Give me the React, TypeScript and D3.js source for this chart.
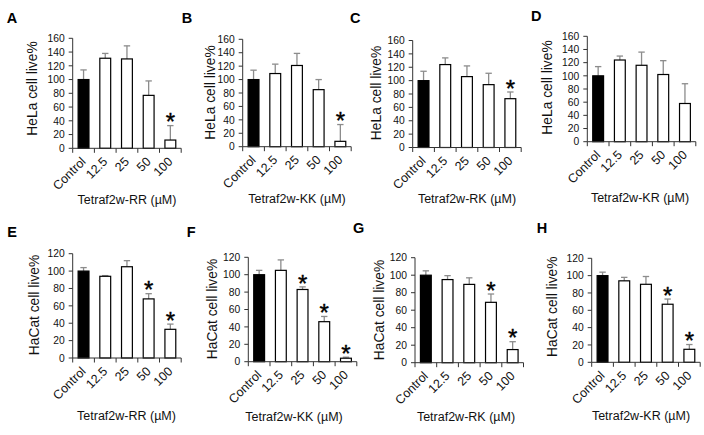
import React from "react";
import * as d3 from "d3";

// ---------- data ----------
const categories = ["Control", "12.5", "25", "50", "100"];

const helaRR = [100, 131, 130, 77, 12];
const helaRRErr = [14, 7, 19, 21, 21];
const helaRRSig = [false, false, false, false, true];

const helaKK = [100, 109, 121, 85, 8];
const helaKKErr = [14, 14, 18, 15, 25];
const helaKKSig = [false, false, false, false, true];

const helaRK = [100, 124, 106, 94, 73];
const helaRKErr = [14, 10, 16, 17, 10];
const helaRKSig = [false, false, false, false, true];

const helaKR = [100, 124, 116, 102, 58];
const helaKRErr = [14, 6, 20, 21, 30];
const helaKRSig = [false, false, false, false, false];

const hacatRR = [100, 94, 105, 68, 33];
const hacatRRErr = [4, 0.8, 7, 6, 6];
const hacatRRSig = [false, false, false, true, true];

const hacatKK = [100, 105, 83, 46, 4];
const hacatKKErr = [5, 12, 3, 6, 1.2];
const hacatKKSig = [false, false, true, true, true];

const hacatRK = [100, 95, 89.5, 69, 15];
const hacatRKErr = [5, 4.5, 7.5, 9.5, 9];
const hacatRKSig = [false, false, false, true, true];

const hacatKR = [100, 94, 90, 67, 15];
const hacatKRErr = [4, 4, 9, 6, 5.5];
const hacatKRSig = [false, false, false, true, true];

const helaTicks = [0, 20, 40, 60, 80, 100, 120, 140, 160];
const hacatTicks = [0, 20, 40, 60, 80, 100, 120];

const helaLabel = "HeLa cell live%";
const hacatLabel = "HaCat cell live%";
const titles = [
  "Tetraf2w-RR (µM)",
  "Tetraf2w-KK (µM)",
  "Tetraf2w-RK (µM)",
  "Tetraf2w-KR (µM)",
];

// ---------- layout (positions only) ----------
type Layout = {
  letter: string;
  lx: number; ly: number;
  ax: number; y0: number; y1: number;
  ylx: number; yly: number;
  tx: number; ty: number;
};

const layouts: Layout[] = [
  { letter: "A", lx: 6.7, ly: 23.3, ax: 72.7, y0: 148.3, y1: 38.3, ylx: 31.7, yly: 88.5, tx: 127, ty: 204 },
  { letter: "B", lx: 181.7, ly: 23.3, ax: 242.7, y0: 146.7, y1: 39.3, ylx: 210, yly: 92.5, tx: 297, ty: 203 },
  { letter: "C", lx: 350, ly: 22.7, ax: 412.7, y0: 147.5, y1: 40.5, ylx: 375.5, yly: 93, tx: 467, ty: 203 },
  { letter: "D", lx: 531, ly: 20.7, ax: 587.3, y0: 141.7, y1: 36.3, ylx: 547.3, yly: 87.5, tx: 640, ty: 202 },
  { letter: "E", lx: 7.3, ly: 236.7, ax: 72.7, y0: 358, y1: 253.7, ylx: 34, yly: 305, tx: 126.5, ty: 420 },
  { letter: "F", lx: 186.7, ly: 236.7, ax: 248.3, y0: 361.7, y1: 257.3, ylx: 212.3, yly: 309, tx: 294, ty: 421 },
  { letter: "G", lx: 353, ly: 233.3, ax: 415, y0: 362.7, y1: 257.7, ylx: 379, yly: 310, tx: 466, ty: 420.5 },
  { letter: "H", lx: 536.7, ly: 233.3, ax: 591.7, y0: 362.3, y1: 258.3, ylx: 552.3, yly: 306.7, tx: 641, ty: 420 },
];

const panelData = [
  { v: helaRR, e: helaRRErr, s: helaRRSig, ticks: helaTicks, yl: helaLabel, t: titles[0] },
  { v: helaKK, e: helaKKErr, s: helaKKSig, ticks: helaTicks, yl: helaLabel, t: titles[1] },
  { v: helaRK, e: helaRKErr, s: helaRKSig, ticks: helaTicks, yl: helaLabel, t: titles[2] },
  { v: helaKR, e: helaKRErr, s: helaKRSig, ticks: helaTicks, yl: helaLabel, t: titles[3] },
  { v: hacatRR, e: hacatRRErr, s: hacatRRSig, ticks: hacatTicks, yl: hacatLabel, t: titles[0] },
  { v: hacatKK, e: hacatKKErr, s: hacatKKSig, ticks: hacatTicks, yl: hacatLabel, t: titles[1] },
  { v: hacatRK, e: hacatRKErr, s: hacatRKSig, ticks: hacatTicks, yl: hacatLabel, t: titles[2] },
  { v: hacatKR, e: hacatKRErr, s: hacatKRSig, ticks: hacatTicks, yl: hacatLabel, t: titles[3] },
];

const FONT = "'Liberation Sans', Arial, Helvetica, sans-serif";
const AXIS_W = 108.5;
const AXIS_COLOR = "#333";
const ERR_COLOR = "#8c8c8c";
const STAR_SIZE = 24;

function Panel({ L, D }: { L: Layout; D: typeof panelData[number] }) {
  const yMax = D.ticks[D.ticks.length - 1];
  const x = d3
    .scaleBand<string>()
    .domain(categories)
    .range([L.ax, L.ax + AXIS_W])
    .paddingInner(0.5)
    .paddingOuter(0.25);
  const y = d3.scaleLinear().domain([0, yMax]).range([L.y0, L.y1]);
  const step = x.step();
  const bw = x.bandwidth();
  const boundaries = d3.range(categories.length + 1).map((i) => L.ax + i * step);

  return (
    <g fontFamily={FONT}>
      <text x={L.lx} y={L.ly} fontSize={14.5} fontWeight="bold" fill="#000">
        {L.letter}
      </text>
      {/* y axis */}
      <line x1={L.ax} x2={L.ax} y1={y(0)} y2={y(yMax)} stroke={AXIS_COLOR} strokeWidth={1} />
      {D.ticks.map((t) => (
        <g key={t}>
          <line x1={L.ax - 4} x2={L.ax} y1={y(t)} y2={y(t)} stroke={AXIS_COLOR} strokeWidth={1} />
          <text x={L.ax - 8} y={y(t)} dy="0.36em" textAnchor="end" fontSize={10.3} fill="#111">
            {t}
          </text>
        </g>
      ))}
      {/* bars */}
      {categories.map((c, i) => {
        const v = D.v[i];
        const top = y(v + D.e[i]);
        const cx = (x(c) as number) + bw / 2;
        return (
          <g key={c}>
            <line x1={cx} x2={cx} y1={y(v)} y2={top} stroke={ERR_COLOR} strokeWidth={1.3} />
            <line x1={cx - 3.2} x2={cx + 3.2} y1={top} y2={top} stroke={ERR_COLOR} strokeWidth={1.3} />
            <rect
              x={x(c)}
              y={y(v)}
              width={bw}
              height={y(0) - y(v)}
              fill={i === 0 ? "#000" : "#fff"}
              stroke="#000"
              strokeWidth={1.2}
            />
            {D.s[i] && (
              <text
                x={cx}
                y={top - 9 + STAR_SIZE * 0.57}
                textAnchor="middle"
                fontSize={STAR_SIZE}
                fill="#000"
                stroke="#000"
                strokeWidth={0.4}
              >
                *
              </text>
            )}
          </g>
        );
      })}
      {/* x axis */}
      <line x1={L.ax} x2={L.ax + AXIS_W} y1={L.y0} y2={L.y0} stroke={AXIS_COLOR} strokeWidth={1} />
      {boundaries.map((bx, i) => (
        <line key={i} x1={bx} x2={bx} y1={L.y0} y2={L.y0 + 4.5} stroke={AXIS_COLOR} strokeWidth={1} />
      ))}
      {categories.map((c) => {
        const cx = (x(c) as number) + bw / 2;
        const px = cx + 3;
        const py = L.y0 + 14;
        return (
          <text
            key={c}
            x={px}
            y={py}
            textAnchor="end"
            fontSize={12.5}
            fill="#111"
            transform={`rotate(-45, ${px}, ${py})`}
          >
            {c}
          </text>
        );
      })}
      {/* axis titles */}
      <text
        x={L.ylx + 5}
        y={L.yly}
        textAnchor="middle"
        fontSize={13.8}
        fill="#111"
        transform={`rotate(-90, ${L.ylx + 5}, ${L.yly})`}
      >
        {D.yl}
      </text>
      <text x={L.tx} y={L.ty} textAnchor="middle" fontSize={12.5} fill="#111">
        {D.t}
      </text>
    </g>
  );
}

export default function App() {
  return (
    <svg
      width={704}
      height={435}
      viewBox="0 0 704 435"
      style={{ position: "absolute", left: 0, top: 0, background: "#fff" }}
    >
      <rect width={704} height={435} fill="#fff" />
      {layouts.map((L, i) => (
        <Panel key={L.letter} L={L} D={panelData[i]} />
      ))}
    </svg>
  );
}
